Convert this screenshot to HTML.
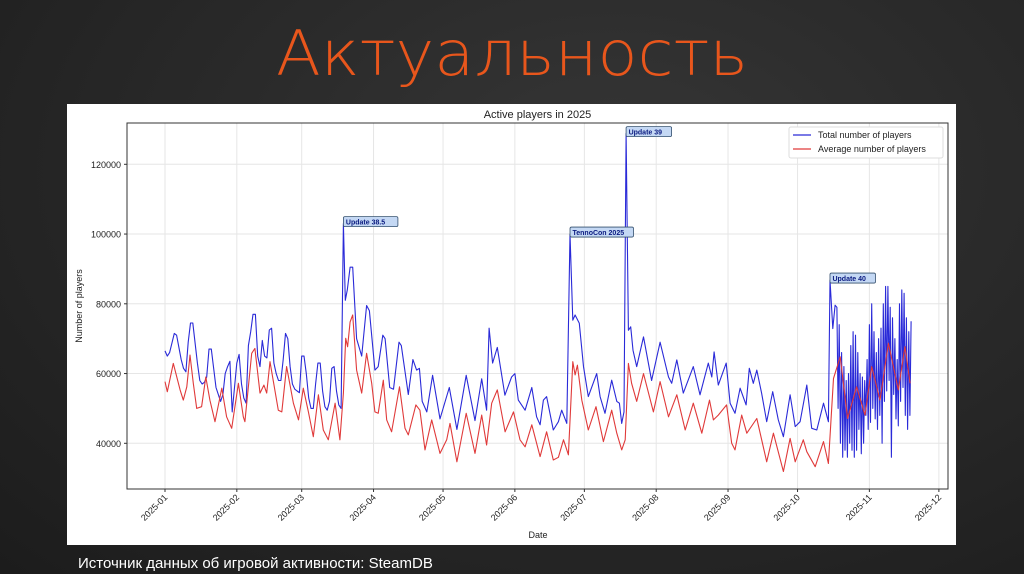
<!DOCTYPE html>
<html><head><meta charset="utf-8">
<style>
html,body{margin:0;padding:0;width:1024px;height:574px;overflow:hidden;background:#262626;}
#slide{position:relative;width:1024px;height:574px;background:radial-gradient(ellipse at 60% 30%,#363636 0%,#2a2a2a 45%,#1c1c1c 100%);font-family:"Liberation Sans",sans-serif;}
</style></head>
<body>
<div id="slide">
<svg width="1024" height="574" style="position:absolute;left:0;top:0">
<text x="512" y="75" text-anchor="middle" fill="#e8561c" font-family="DejaVu Sans ExtraLight, DejaVu Sans, sans-serif" font-weight="200" font-size="62" textLength="472" lengthAdjust="spacingAndGlyphs">Актуальность</text>
<text x="78" y="568" fill="#ffffff" font-family="Liberation Sans, sans-serif" font-size="15">Источник данных об игровой активности: SteamDB</text>
<g id="chart"></g>
</svg>
</div>
<script>
const blueDays=[0,1,2,4,5,7,8,9,10,11,12,14,15,16,17,18,19,20,22,24,25,26,27,28,29,30,31,32,33,34,35,36,37,38,39,40,41,42,43,44,45,46,47,48,49,50,51,52,53,54,55,56,57,58,59,60,61,62,63,64,65,66,67,68,69,70,71,72,73,74,75,76,77,77.8,78.7,79.9,81,82.7,84.9,87,88.2,90.6,92,94,95,97,98.6,101,102,105,107,108.6,109.8,111,113,115.5,118.7,122.7,126,130,133.8,136.7,138.8,139.9,141.4,143.4,146.7,149.6,151,152.5,155.4,158.3,160.4,161.9,163.3,164.7,167.6,169.8,171.2,173.4,174.8,176,177,178.8,180.6,182.7,186.3,187.8,189.9,192.8,195,196.1,197.1,198.1,199,200,201,202,203.6,206.5,210,213.7,217.3,218.7,220.9,223.7,228,230.9,234.5,236,237,238.8,242.2,243.9,246,248.2,250.8,252.2,253.9,255.4,257.5,259.7,262.3,264.7,266.9,269.8,272,274.1,277,279.1,281.3,284.2,286.3,287,288.2,289.2,290,290.5,291,291.5,292,292.5,293,293.5,294,294.5,295,295.5,296,296.5,297,297.5,298,298.5,299,299.5,300,300.5,301,301.5,302,302.5,303,303.5,304,304.5,305,305.5,306,306.5,307,307.5,308,308.5,309,309.5,310,310.5,311,311.5,312,312.5,313,313.5,314,314.5,315,315.5,316,316.5,317,317.5,318,318.5,319,319.5,320,320.5,321,321.5,322];
const blueVals=[66.5,65,66,71.5,71,64,61.5,60.5,69,74.5,74.5,63,58,57,57.5,59,67,67,56,52,54,60,62,63.5,49,56,63,65.5,57,53,51.5,68,72,77,77,65,62,69.5,65,64.5,72.5,73,63,60,58,58,64,71.5,70,62,57,55.5,55,54.5,65,65,60,53,50,50,57,63,63,55,50.5,49.5,52,61.5,62,55,51,50,103,81,84,90.5,90.5,70,65,79.5,78,61,62,71,70,56,55.5,69,68,54,64,61,61.5,52,49,59.5,47,56,44,59.5,46.5,58.5,49.5,73,63,67.5,53.8,59,60,52.4,49.5,56,47.6,45.3,52.4,53.4,43.8,46.2,49.5,45.7,100,75.3,76.8,74.4,62,53.4,60,53.4,48.6,58.1,52,51.5,45.7,49,128.8,72.4,73.4,66.7,62,70.5,58,69,59,57.2,63.9,54.4,62,53.9,63,59,66.2,56.7,63,51.5,48.6,55.8,51,61.5,57.2,61,54.4,46.2,54.8,46.7,41.9,53.9,44.8,46.2,56.7,44.3,43.8,51.5,46.2,86.8,72.9,79.6,79,50,74,40,66,36,62,38,58,36,60,40,68,38,72,36,71,38,66,44,60,37,59,40,58,48,64,44,74,46,80,50,72,47,66,44,70,48,73,40,80,52,85,55,85,58,79,36,76,54,70,47,64,45,80,52,84,56,83,48,76,44,72,48,75];
const redDays=[0,1,3.6,6.5,7.9,9.4,10.8,12.2,13.7,15.8,17.6,19.4,21.6,24.5,26.6,28.8,31.7,33.8,34.5,37.4,38.8,41,42.7,43.9,45.3,48.9,50.4,52.5,55.4,57.6,59.7,61.9,64,66.2,68.3,70.5,73.4,75.5,77,78,78.8,79.9,81,82.7,84.9,87,89.2,90.6,92,94.2,95.7,97.8,101.2,103.6,105,108.3,110,112.2,115.1,118.7,121.6,123,126,130,133.8,136.7,138.8,141,143.4,146.8,150.4,153.2,155.4,158.3,161.9,164.7,167.6,169.8,172,174.1,176,177,178,179.9,182.7,186,189.2,192.8,195,197.1,198.6,200,201.4,203.6,206.5,210.8,213.7,217.3,220.9,224.5,228,231.7,235,236.7,238.8,242.4,244.6,246,248.9,251.1,255.4,259.7,262.6,266.9,269.8,272,275.5,277,280.6,284.2,286.3,288.5,291.4,294.6,298.5,302.1,305,308.6,312.2,316.5,319.4,321.6];
const redVals=[57.7,54.8,62.9,55.3,52.4,56.2,65.3,57.2,50,50.5,59,52.4,46.2,55.8,47.6,44.3,57.2,47.6,46.2,65.8,67.2,54.4,56.7,54.4,63.4,49.5,49,62,51.5,46.7,55.8,49,41.9,53.9,43.8,41,51.5,41,54.4,70.1,67.7,74.8,76.8,61,54.4,65.8,57.2,49,48.6,58.1,46.7,43.3,56.2,44.3,42.4,51,49.5,38.1,46.7,37.1,41,45.7,34.7,48.6,37.1,48.1,39.5,51.5,55.3,43.3,49,41,39,45.3,36.2,43.3,35.2,36,41,36.7,63.4,59.6,62.4,52.4,43.8,50.5,40.5,49.5,42.9,38.1,41,62.9,57.2,52,60,49,57.7,47.6,53.9,43.8,51.5,42.9,52.4,46.7,48.1,51,40,38.1,48.1,42.9,47.1,34.7,42.9,31.9,41.4,34.7,41,37.6,33.3,40.5,34.2,58.6,64.8,47.1,56.2,48.1,62,52.4,68.7,55.3,67.7,57.2];
const yTicks=[40000,60000,80000,100000,120000];
const monthDays=[0,31,59,90,120,151,181,212,243,273,304,334];
const monthLabels=["2025-01","2025-02","2025-03","2025-04","2025-05","2025-06","2025-07","2025-08","2025-09","2025-10","2025-11","2025-12"];
const annDays=[77,174.8,199,287];
const annVals=[103,100,128.8,86.8];
const annLabels=["Update 38.5","TennoCon 2025","Update 39","Update 40"];

const NS="http://www.w3.org/2000/svg";
const L=127,R=948,T=123,B=489;
function xs(d){return 165+d*2.317;}
function ys(v){return 443.3-(v-40000)*0.0034875;}
const g=document.getElementById('chart');
function mk(tag,attrs,parent){const e=document.createElementNS(NS,tag);for(const k in attrs)e.setAttribute(k,attrs[k]);(parent||g).appendChild(e);return e;}

const panel=mk('rect',{x:67,y:104,width:889,height:441,fill:'#ffffff'});



yTicks.forEach(v=>{const l=mk('line',{x1:L,x2:R,y1:ys(v),y2:ys(v),stroke:'#e6e6e6','stroke-width':1});


const t=mk('text',{x:L-6,y:ys(v)+3.5,'text-anchor':'end','font-size':9,fill:'#222'});t.textContent=v;


mk('line',{x1:L-3,x2:L,y1:ys(v),y2:ys(v),stroke:'#333'});});
monthDays.forEach((d,i)=>{const x=xs(d);const l=mk('line',{x1:x,x2:x,y1:T,y2:B,stroke:'#e6e6e6','stroke-width':1});


mk('line',{x1:x,x2:x,y1:B,y2:B+3,stroke:'#333'});
const t=mk('text',{x:x+3,y:B+9,'text-anchor':'end','font-size':9,fill:'#222',transform:`rotate(-45 ${x+3} ${B+9})`});t.textContent=monthLabels[i];

});

function path(days,vals,color,name){let d='';days.forEach((dd,i)=>{d+=(i?'L':'M')+xs(dd).toFixed(1)+','+ys(vals[i]*1000).toFixed(1);});
const p=mk('path',{d:d,fill:'none',stroke:color,'stroke-width':1.1,'stroke-linejoin':'round'});

}
path(blueDays,blueVals,'#2a2ad8','total-players-line');
path(redDays,redVals,'#e03a3a','average-players-line');

const frame=mk('rect',{x:L,y:T,width:R-L,height:B-T,fill:'none',stroke:'#333','stroke-width':1});



annDays.forEach((d,i)=>{const x=xs(d)+1,py=ys(annVals[i]*1000);
const w=annLabels[i].length*4.5+5;
const r=mk('rect',{x:x-1,y:py-7,width:w,height:10,rx:1.5,fill:'#c4d8f4',stroke:'#34506e','stroke-width':0.8});


const t=mk('text',{x:x+1.5,y:py+0.8,'font-size':7,'font-weight':'bold',fill:'#0a1a80'});t.textContent=annLabels[i];

});

const title=mk('text',{x:(L+R)/2,y:118,'text-anchor':'middle','font-size':11,fill:'#222'});title.textContent='Active players in 2025';


const yl=mk('text',{x:82,y:306,'text-anchor':'middle','font-size':9,fill:'#222',transform:'rotate(-90 82 306)'});yl.textContent='Number of players';


const xl=mk('text',{x:538,y:538,'text-anchor':'middle','font-size':9,fill:'#222'});xl.textContent='Date';



const lg=mk('rect',{x:789,y:127,width:154,height:31,rx:2,fill:'#fff',stroke:'#ddd'});


[['Total number of players','#2a2ad8',135],['Average number of players','#e03a3a',149]].forEach(a=>{
mk('line',{x1:793,x2:811,y1:a[2],y2:a[2],stroke:a[1],'stroke-width':1.2});
const t=mk('text',{x:818,y:a[2]+3,'font-size':9,fill:'#222'});t.textContent=a[0];

});
</script>
</body></html>
